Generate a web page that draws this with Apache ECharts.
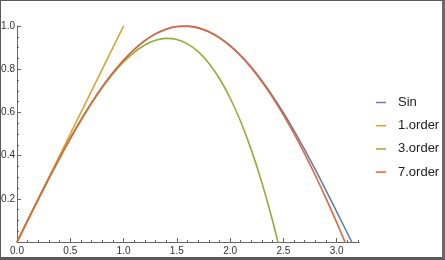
<!DOCTYPE html>
<html><head><meta charset="utf-8">
<script src="https://cdn.jsdelivr.net/npm/echarts@6/dist/echarts.min.js"></script>
<style>
html,body{margin:0;padding:0;background:#fff;}
#c{position:absolute;left:0;top:0;width:445px;height:260px;}
#f{position:absolute;left:0;top:0;width:445px;height:260px;box-sizing:border-box;
border-top:1px solid #5a5a5a;border-left:1px solid #5a5a5a;border-right:3px solid #6a6a6a;border-bottom:3px solid #5a5a5a;pointer-events:none;}
</style></head>
<body><div id="c"></div><div id="f"></div>
<script>
const seriesNames = ["Sin", "1.order", "3.order", "7.order"];
const xs = [0,0.1,0.2,0.3,0.4,0.5,0.6,0.7,0.8,0.9,1.0,1.1,1.2,1.3,1.4,1.5,1.6,1.7,1.8,1.9,2.0,2.1,2.2,2.3,2.4,2.5,2.6,2.7,2.8,2.9,3.0,3.1,3.2];
const sinY = [0,0.0998,0.1987,0.2955,0.3894,0.4794,0.5646,0.6442,0.7174,0.7833,0.8415,0.8912,0.9320,0.9636,0.9854,0.9975,0.9996,0.9917,0.9738,0.9463,0.9093,0.8632,0.8085,0.7457,0.6755,0.5985,0.5155,0.4274,0.3350,0.2392,0.1411,0.0416,-0.0584];
const order1X = [0, 1];
const order1Y = [0, 1];
const order3X = [0,0.1,0.2,0.3,0.4,0.5,0.6,0.7,0.8,0.9,1.0,1.1,1.2,1.3,1.4,1.5,1.6,1.7,1.8,1.9,2.0,2.1,2.2,2.3,2.4,2.5];
const order3Y = [0,0.0998,0.1987,0.2955,0.3893,0.4792,0.5640,0.6428,0.7147,0.7785,0.8333,0.8782,0.9120,0.9338,0.9427,0.9375,0.9173,0.8812,0.8280,0.7568,0.6667,0.5565,0.4253,0.2722,0.0960,-0.1042];
const order7X = [0,0.1,0.2,0.3,0.4,0.5,0.6,0.7,0.8,0.9,1.0,1.1,1.2,1.3,1.4,1.5,1.6,1.7,1.8,1.9,2.0,2.1,2.2,2.3,2.4,2.5,2.6,2.7,2.8,2.9,3.0,3.1];
const order7Y = [0,0.0998,0.1987,0.2955,0.3894,0.4794,0.5646,0.6442,0.7174,0.7833,0.8415,0.8912,0.9320,0.9636,0.9854,0.9974,0.9994,0.9914,0.9733,0.9454,0.9079,0.8611,0.8053,0.7409,0.6686,0.5886,0.5014,0.4078,0.3078,0.2021,0.0910,-0.0254];
const xMajorTicks = [0,0.5,1.0,1.5,2.0,2.5,3.0];
const xMinorTicks = [0.1,0.2,0.3,0.4,0.6,0.7,0.8,0.9,1.1,1.2,1.3,1.4,1.6,1.7,1.8,1.9,2.1,2.2,2.3,2.4,2.6,2.7,2.8,2.9,3.1,3.2];
const yMajorTicks = [0.2,0.4,0.6,0.8,1.0];
const yMinorTicks = [0.05,0.1,0.15,0.25,0.3,0.35,0.45,0.5,0.55,0.65,0.7,0.75,0.85,0.9,0.95];
const colors = ["#5E81B5", "#E19C24", "#8FB032", "#EB6235"];

const zip = (a, b) => a.map((v, i) => [v, b[i]]);
const font = "Liberation Sans";
const axisCol = "#666";
const XMAX = 3.21, YMAX = 1.0;

const chart = echarts.init(document.getElementById('c'));
chart.setOption({
  animation: false,
  textStyle: {fontFamily: font},
  grid: {left: 17, top: 26, width: 342, height: 216, containLabel: false, outerBoundsMode: 'none'},
  legend: {
    orient: 'vertical', left: 371, top: 91, itemWidth: 10, itemHeight: 1.5, itemGap: 10.2,
    icon: 'rect',
    textStyle: {fontFamily: font, fontSize: 13, color: '#222', padding: [0, 0, 0, 7]},
    data: seriesNames
  },
  xAxis: [
    {type: 'value', min: 0, max: XMAX, position: 'bottom',
     axisLine: {show: true, lineStyle: {color: axisCol, width: 1}},
     axisTick: {show: true, inside: true, length: 4, customValues: xMajorTicks, lineStyle: {color: axisCol}},
     axisLabel: {show: true, customValues: xMajorTicks, formatter: v => v.toFixed(1), fontSize: 10, color: '#333', margin: 4, fontFamily: font},
     splitLine: {show: false}},
    {type: 'value', min: 0, max: XMAX, position: 'bottom',
     axisLine: {show: false},
     axisTick: {show: true, inside: true, length: 2, customValues: xMinorTicks, lineStyle: {color: axisCol}},
     axisLabel: {show: false}, splitLine: {show: false}}
  ],
  yAxis: [
    {type: 'value', min: 0, max: YMAX, position: 'left',
     axisLine: {show: true, onZero: false, lineStyle: {color: axisCol, width: 1}},
     axisTick: {show: true, inside: true, length: 4, customValues: yMajorTicks, lineStyle: {color: axisCol}},
     axisLabel: {show: true, customValues: yMajorTicks, formatter: v => v.toFixed(1), fontSize: 10, color: '#333', margin: 2, fontFamily: font},
     splitLine: {show: false}},
    {type: 'value', min: 0, max: YMAX, position: 'left',
     axisLine: {show: false},
     axisTick: {show: true, inside: true, length: 2, customValues: yMinorTicks, lineStyle: {color: axisCol}},
     axisLabel: {show: false}, splitLine: {show: false}}
  ],
  series: [
    {name: seriesNames[0], type: 'line', data: zip(xs, sinY)},
    {name: seriesNames[1], type: 'line', data: zip(order1X, order1Y)},
    {name: seriesNames[2], type: 'line', data: zip(order3X, order3Y)},
    {name: seriesNames[3], type: 'line', data: zip(order7X, order7Y)}
  ].map((s, i) => Object.assign(s, {
    xAxisIndex: 0, yAxisIndex: 0, showSymbol: false, symbol: 'none', smooth: 0.3, clip: true,
    color: colors[i], lineStyle: {color: colors[i], width: 1.6}
  }))
});
</script></body></html>
